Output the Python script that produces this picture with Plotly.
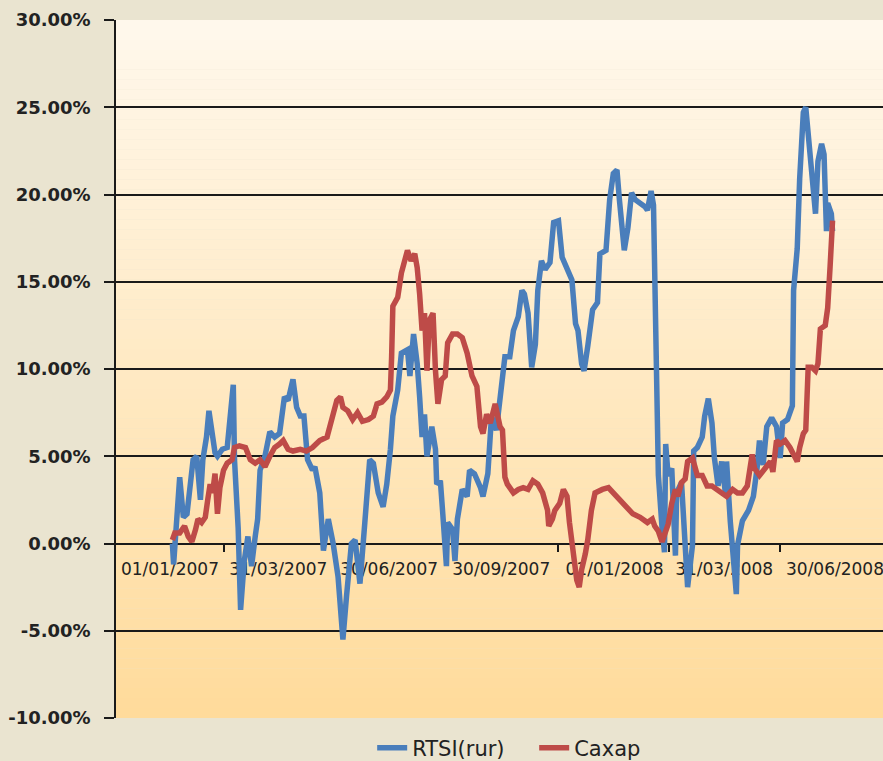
import pandas as pd
import plotly.graph_objects as go

BASE_DATE = "2007-01-01"

# RTSI(rur): days since 2007-01-01 and cumulative change, %
rtsi_days = [2, 3, 8, 11, 14, 19, 22, 25, 27, 30, 32, 34, 37, 39, 43, 47, 49, 52, 53, 56,
             58, 61, 64, 67, 70, 72, 74, 78, 82, 86, 90, 94, 97, 101, 104, 107, 110, 113, 117, 119,
             123, 126, 130, 134, 138, 142, 145, 149, 152, 156, 160, 164, 167, 171, 175, 178, 181, 183, 187, 190,
             195, 197, 200, 203, 205, 207, 209, 211, 215, 218, 219, 222, 224, 227, 228, 232, 234, 236, 240, 244,
             246, 250, 255, 257, 261, 264, 268, 271, 273, 275, 279, 282, 286, 289, 291, 294, 297, 300, 302, 305,
             308, 312, 315, 319, 322, 326, 330, 333, 335, 338, 340, 343, 347, 351, 353, 358, 361, 364, 367, 369,
             373, 376, 379, 382, 386, 390, 392, 395, 397, 399, 401, 404, 406, 407, 409, 412, 415, 416, 420, 423,
             425, 429, 430, 433, 437, 439, 442, 445, 447, 450, 453, 456, 457, 460, 462, 465, 466, 470, 475, 479,
             482, 484, 487, 490, 494, 498, 501, 503, 507, 511, 512, 515, 517, 520, 522, 524, 527, 530, 532, 535,
             537, 539, 540, 543, 544]
rtsi_vals = [0.0, -1.2, 3.8, 1.5, 1.7, 4.8, 5.0, 2.5, 4.8, 6.1, 7.6, 6.7, 5.2, 5.0, 5.4, 5.5, 7.1, 9.1, 4.8, 0.9,
             -3.8, -1.0, 0.4, -1.3, 0.4, 1.4, 4.2, 5.0, 6.4, 6.1, 6.3, 8.4, 8.2, 9.4, 7.8, 7.3, 7.3, 4.8, 4.2, 4.4,
             2.9, -0.4, 1.4, 0.0, -1.9, -5.5, -3.0, 0.0, 0.2, -2.3, 1.2, 4.8, 4.6, 2.9, 2.1, 3.4, 5.4, 7.3, 8.8, 10.9,
             11.1, 9.6, 12.0, 10.3, 8.4, 6.1, 7.4, 5.0, 6.7, 5.4, 3.4, 3.6, 1.7, -1.3, 1.2, 0.8, -1.0, 1.4, 3.1, 2.7,
             4.2, 4.0, 3.2, 2.7, 4.0, 7.3, 6.5, 8.4, 9.2, 10.7, 10.7, 12.2, 13.0, 14.5, 14.3, 13.2, 10.1, 11.4, 14.5, 16.2,
             15.7, 16.1, 18.4, 18.5, 16.4, 15.7, 15.1, 12.6, 12.2, 10.3, 9.9, 11.3, 13.4, 13.8, 16.6, 16.8, 19.7, 21.2, 21.4, 19.7,
             16.8, 18.1, 20.1, 19.7, 19.5, 19.3, 19.1, 20.2, 19.4, 11.9, 3.9, 0.9, -0.5, 5.7, 3.9, 4.3, -0.7, 2.9, 3.5, -0.1,
             -2.5, -0.1, 5.3, 5.5, 6.1, 7.3, 8.3, 6.9, 4.9, 3.3, 4.7, 2.9, 4.7, 1.3, -0.1, -2.9, -0.1, 1.3, 1.9, 2.7,
             4.3, 5.9, 4.5, 6.7, 7.2, 6.7, 4.9, 6.9, 7.1, 7.9, 14.5, 16.9, 20.9, 24.7, 25.0, 23.5, 21.3, 18.9, 21.9, 22.9,
             22.3, 17.9, 19.5, 18.9, 17.9]

# Сахар: days since 2007-01-01 and cumulative change, %
sugar_days = [2, 4, 8, 12, 15, 18, 21, 23, 26, 29, 31, 33, 35, 37, 39, 41, 44, 47, 51, 53,
              57, 62, 66, 70, 74, 78, 82, 86, 90, 93, 97, 101, 107, 112, 117, 123, 129, 133, 137, 140,
              142, 146, 150, 154, 158, 163, 167, 170, 174, 178, 181, 182, 183, 187, 190, 195, 198, 201, 203, 205,
              207, 209, 211, 213, 216, 218, 220, 223, 226, 228, 232, 236, 240, 244, 248, 252, 255, 257, 260, 263,
              267, 271, 273, 275, 277, 282, 286, 290, 294, 298, 302, 306, 310, 311, 314, 316, 320, 323, 326, 328,
              331, 334, 336, 338, 341, 343, 346, 349, 355, 360, 364, 369, 375, 380, 386, 392, 396, 398, 401, 404,
              406, 409, 412, 415, 417, 420, 423, 425, 429, 431, 433, 437, 441, 445, 449, 453, 457, 462, 466, 470,
              474, 478, 480, 484, 488, 493, 495, 498, 501, 505, 509, 515, 517, 520, 522, 524, 527, 530, 532, 534,
              538, 540, 542, 544]
sugar_vals = [0.2, 0.6, 0.6, 1.0, 0.4, 0.1, 0.8, 1.4, 1.2, 1.5, 2.5, 3.4, 2.9, 4.0, 1.7, 3.2, 4.2, 4.6, 4.8, 5.5,
              5.6, 5.5, 4.8, 4.6, 4.8, 4.4, 5.0, 5.5, 5.7, 5.9, 5.4, 5.3, 5.4, 5.3, 5.5, 5.9, 6.1, 7.3, 8.2, 8.4,
              7.8, 7.6, 7.1, 7.5, 7.0, 7.1, 7.3, 8.0, 8.1, 8.4, 8.8, 10.7, 13.6, 14.1, 15.5, 16.8, 16.2, 16.6, 15.8, 14.3,
              12.2, 13.2, 9.9, 12.8, 13.2, 9.9, 8.0, 9.4, 9.6, 11.5, 12.0, 12.0, 11.8, 10.9, 9.6, 9.0, 6.7, 6.3, 7.4, 6.9,
              8.0, 6.7, 6.5, 3.8, 3.4, 2.9, 3.1, 3.2, 3.1, 3.6, 3.4, 2.9, 1.9, 1.0, 1.4, 1.9, 2.3, 3.1, 2.7, 1.2,
              -0.4, -2.1, -2.5, -1.5, -0.6, 0.2, 1.9, 2.9, 3.1, 3.2, 2.9, 2.5, 2.1, 1.7, 1.5, 1.2, 1.4, 1.0, 0.7, 0.1,
              0.5, 1.1, 2.3, 3.1, 2.7, 3.5, 3.7, 4.7, 4.9, 4.3, 3.9, 3.9, 3.3, 3.3, 3.1, 2.9, 2.7, 3.1, 2.9, 2.9,
              3.3, 5.1, 4.3, 3.9, 4.3, 4.7, 4.1, 5.9, 5.7, 5.9, 5.5, 4.7, 5.5, 6.3, 6.5, 10.1, 10.1, 9.9, 10.3, 12.3,
              12.5, 13.5, 15.9, 18.5]

tick_dates = ["2007-01-01", "2007-03-31", "2007-06-30", "2007-09-30", "2008-01-01", "2008-03-31", "2008-06-30"]
tick_labels = ["01/01/2007", "31/03/2007", "30/06/2007", "30/09/2007", "01/01/2008", "31/03/2008", "30/06/2008"]
y_ticks = [-10, -5, 0, 5, 10, 15, 20, 25, 30]
y_labels = ["%.2f%%" % v for v in y_ticks]

base = pd.Timestamp(BASE_DATE)
rtsi_x = base + pd.to_timedelta(rtsi_days, unit="D")
sugar_x = base + pd.to_timedelta(sugar_days, unit="D")

# tick marks sit midway between the labelled dates
td = pd.to_datetime(tick_dates)
minor_ticks = [td[i] + (td[i + 1] - td[i]) / 2 for i in range(len(td) - 1)]

fig = go.Figure()
fig.add_trace(go.Scatter(x=rtsi_x, y=rtsi_vals, mode="lines", name="RTSI(rur)",
                         line=dict(color="#4A7EBB", width=5.5)))
fig.add_trace(go.Scatter(x=sugar_x, y=sugar_vals, mode="lines", name="Сахар",
                         line=dict(color="#BE4B48", width=5.5)))

# vertical gradient for the plot area
top = (255, 248, 236)
bot = (255, 219, 155)
n = 70
shapes = []
for i in range(n):
    t = i / (n - 1)
    c = tuple(round(top[k] + (bot[k] - top[k]) * t) for k in range(3))
    y1 = 1 - i / n
    y0 = 1 - (i + 1) / n
    shapes.append(dict(type="rect", xref="paper", yref="paper", x0=0, x1=1, y0=y0, y1=y1,
                       fillcolor="rgb(%d,%d,%d)" % c, line=dict(width=0), layer="below"))

fig.update_layout(
    width=883, height=761,
    margin=dict(l=116, r=0, t=20, b=43, autoexpand=False),
    paper_bgcolor="#EAE4D0",
    plot_bgcolor="rgba(0,0,0,0)",
    shapes=shapes,
    showlegend=True,
    legend=dict(orientation="h", x=0.334, xanchor="left", y=-0.043, yanchor="middle",
                font=dict(family="DejaVu Sans", size=21, color="#222222"),
                bgcolor="rgba(0,0,0,0)", itemwidth=30,
                entrywidth=117, entrywidthmode="pixels"),
    font=dict(family="DejaVu Sans", color="#222222"),
)

fig.update_xaxes(
    type="date",
    range=["2006-11-17 17:00", "2008-08-08 10:00"],
    anchor="free", position=0.25,
    tickmode="array", tickvals=tick_dates, ticktext=tick_labels, ticks="",
    tickfont=dict(family="DejaVu Sans", size=17, color="#222222"),
    ticklabeloverflow="allow", ticklabelstandoff=10,
    showgrid=False, zeroline=False,
    showline=True, linecolor="#1a1a1a", linewidth=1.5,
    layer="below traces",
    minor=dict(tickmode="array", tickvals=minor_ticks, ticks="outside", ticklen=8,
               tickcolor="#1a1a1a", tickwidth=1.5, showgrid=False),
)
fig.update_yaxes(
    range=[-10, 30], tickmode="array", tickvals=y_ticks, ticktext=y_labels,
    tickfont=dict(family="DejaVu Sans", size=18, color="#222222", weight="bold"),
    ticklabelstandoff=10,
    showgrid=True, gridcolor="#1a1a1a", gridwidth=1.5,
    zeroline=False,
    showline=True, linecolor="#1a1a1a", linewidth=1.5,
    ticks="outside", ticklen=10, tickcolor="#1a1a1a", tickwidth=1.5,
)

post = ("document.body.style.margin='0';document.body.style.overflow='hidden';"
        "var gd=document.getElementById('{plot_id}');"
        "Plotly.relayout(gd,{width:883,height:761});")
fig.write_html("out.html", post_script=post, config={"displayModeBar": False})
